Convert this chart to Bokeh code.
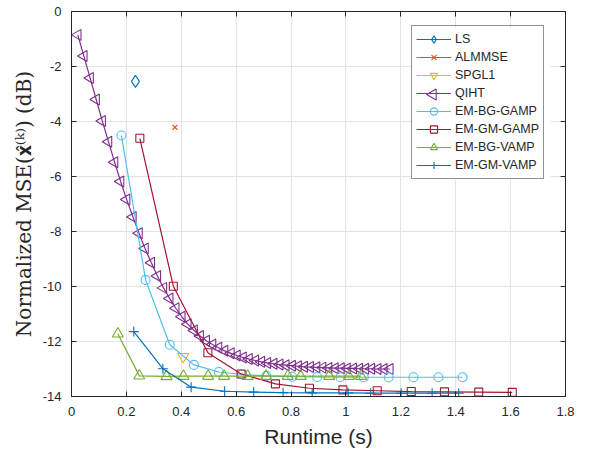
import numpy as np
from bokeh.plotting import figure
from bokeh.models import (Range1d, LinearAxis, SingleIntervalTicker, NumeralTickFormatter,
                          Legend, LegendItem)
from bokeh.embed import file_html
from bokeh.resources import INLINE

# ---------------- data ----------------
ls_x = [0.233]
ls_y = [-2.54]

almmse_x = [0.377]
almmse_y = [-4.21]

spgl1_x = [0.407]
spgl1_y = [-12.55]

qiht_x = [0.023, 0.045, 0.068, 0.090, 0.112, 0.135, 0.157, 0.179, 0.201, 0.224,
          0.246, 0.268, 0.291, 0.313, 0.335, 0.358, 0.380, 0.402, 0.424, 0.447,
          0.469, 0.491, 0.514, 0.536, 0.558, 0.581, 0.603, 0.625, 0.647, 0.670,
          0.692, 0.714, 0.737, 0.759, 0.781, 0.804, 0.826, 0.848, 0.870, 0.893,
          0.915, 0.937, 0.960, 0.982, 1.004, 1.027, 1.049, 1.071, 1.093, 1.116,
          1.138, 1.160]
qiht_y = [-0.85, -1.62, -2.42, -3.20, -3.98, -4.74, -5.48, -6.18, -6.84, -7.47,
          -8.06, -8.62, -9.14, -9.62, -10.05, -10.44, -10.79, -11.10, -11.37, -11.60,
          -11.80, -11.97, -12.11, -12.23, -12.34, -12.43, -12.51, -12.58, -12.64, -12.69,
          -12.74, -12.78, -12.81, -12.84, -12.86, -12.88, -12.90, -12.92, -12.93, -12.94,
          -12.95, -12.96, -12.97, -12.97, -12.98, -12.98, -12.99, -12.99, -12.99, -13.00,
          -13.00, -13.00]

bg_gamp_x = [0.182, 0.270, 0.358, 0.446, 0.537, 0.622, 0.710, 0.804, 0.895, 0.980,
             1.065, 1.156, 1.246, 1.337, 1.425]
bg_gamp_y = [-4.51, -9.76, -12.12, -12.85, -13.11, -13.20, -13.25, -13.28, -13.29, -13.30,
             -13.30, -13.30, -13.30, -13.30, -13.30]

gm_gamp_x = [0.249, 0.371, 0.497, 0.618, 0.743, 0.867, 0.989, 1.114, 1.238, 1.359,
             1.484, 1.606]
gm_gamp_y = [-4.61, -9.99, -12.41, -13.18, -13.54, -13.70, -13.76, -13.79, -13.82, -13.83,
             -13.84, -13.85]

bg_vamp_x = [0.169, 0.247, 0.346, 0.408, 0.498, 0.556, 0.642, 0.709, 0.788, 0.835,
             0.939, 1.011, 1.055]
bg_vamp_y = [-11.72, -13.25, -13.27, -13.26, -13.26, -13.26, -13.26, -13.26, -13.26, -13.26,
             -13.26, -13.26, -13.26]

gm_vamp_x = [0.227, 0.333, 0.436, 0.558, 0.664, 0.771, 0.877, 1.008, 1.090, 1.201,
             1.314, 1.411]
gm_vamp_y = [-11.64, -12.99, -13.66, -13.81, -13.84, -13.86, -13.87, -13.87, -13.88, -13.88,
             -13.88, -13.88]

x_min, x_max = 0, 1.8
y_min, y_max = -14, 0
x_ticks_interval = 0.2
y_ticks_interval = 2

# ---------------- figure ----------------
W, H = 591, 453
BL, BR, BT, BB = 71, 26, 11, 57
FW, FH = W - BL - BR, H - BT - BB
AX = "#262626"
p = figure(width=W, height=H, output_backend="svg", toolbar_location=None,
           x_range=Range1d(x_min, x_max), y_range=Range1d(y_min, y_max),
           min_border_left=BL, min_border_right=BR, min_border_top=BT, min_border_bottom=BB)
p.background_fill_color = "white"
p.border_fill_color = "white"
p.outline_line_color = AX
p.outline_line_width = 1

xt = SingleIntervalTicker(interval=x_ticks_interval, num_minor_ticks=0)
yt = SingleIntervalTicker(interval=y_ticks_interval, num_minor_ticks=0)

p.xaxis.ticker = xt
p.yaxis.ticker = yt
p.xaxis.formatter = NumeralTickFormatter(format="0.[0]")
p.yaxis.formatter = NumeralTickFormatter(format="0")
for ax in (p.xaxis, p.yaxis):
    ax.major_tick_in = 5
    ax.major_tick_out = 0
    ax.minor_tick_in = 0
    ax.minor_tick_out = 0
    ax.axis_line_color = AX
    ax.major_tick_line_color = AX
    ax.major_label_text_color = AX
    ax.major_label_text_font = "Liberation Sans"
    ax.major_label_text_font_size = "13px"
    ax.axis_label_text_color = AX
    ax.axis_label_text_font_style = "normal"

p.xaxis.major_label_standoff = 10
p.yaxis.major_label_standoff = 10
p.xaxis.axis_label = "Runtime (s)"
p.xaxis.axis_label_text_font = "Liberation Sans"
p.xaxis.axis_label_text_font_size = "21px"
p.xaxis.axis_label_standoff = 6
p.yaxis.axis_label = "Normalized MSE(\U0001D431\u0302\u207D\u1D4F\u207E) (dB)"
p.yaxis.axis_label_text_font = "DejaVu Serif"
p.yaxis.axis_label_text_font_size = "20px"
p.yaxis.axis_label_standoff = 4

for loc in ("above", "right"):
    ax = LinearAxis(ticker=(xt if loc == "above" else yt))
    ax.major_tick_in = 5
    ax.major_tick_out = 0
    ax.minor_tick_in = 0
    ax.minor_tick_out = 0
    ax.axis_line_color = AX
    ax.major_tick_line_color = AX
    ax.major_label_text_font_size = "1px"
    ax.major_label_text_color = None
    ax.major_label_standoff = 0
    p.add_layout(ax, loc)

p.xgrid.ticker = xt
p.ygrid.ticker = yt
p.xgrid.grid_line_color = "#e3e3e3"
p.ygrid.grid_line_color = "#e3e3e3"

C_LS = "#0072BD"
C_AL = "#D95319"
C_SP = "#EDB120"
C_QI = "#7E2F8E"
C_BGG = "#4DBEEE"
C_GMG = "#A2142F"
C_BGV = "#77AC30"
C_GMV = "#0072BD"

LW = 1.2
items = []

def series(x, y, color, marker, size, label, angle=0.0, legend_marker=True):
    l = p.line(x, y, line_color=color, line_width=LW)
    s = p.scatter(x, y, marker=marker, size=size, angle=angle, line_color=color,
                  fill_color=None, line_width=1.1)
    items.append(LegendItem(label=label, renderers=[l, s] if legend_marker else [l]))

series(ls_x, ls_y, C_LS, "diamond", 12, "LS")
series(almmse_x, almmse_y, C_AL, "x", 7, "ALMMSE")
series(spgl1_x, spgl1_y, C_SP, "inverted_triangle", 11, "SPGL1")
series(qiht_x, qiht_y, C_QI, "triangle", 11, "QIHT", angle=np.pi / 2, legend_marker=False)
series(bg_gamp_x, bg_gamp_y, C_BGG, "circle", 9, "EM-BG-GAMP")
series(gm_gamp_x, gm_gamp_y, C_GMG, "square", 8, "EM-GM-GAMP")
series(bg_vamp_x, bg_vamp_y, C_BGV, "triangle", 11, "EM-BG-VAMP")
series(gm_vamp_x, gm_vamp_y, C_GMV, "cross", 10, "EM-GM-VAMP")

LEG_X, LEG_Y = 340, 217
PAD, ROW, GW = 4, 18, 35
LEG_W = 139
legend = Legend(items=items, location=(LEG_X, LEG_Y))
legend.label_text_font = "Liberation Sans"
legend.label_text_font_size = "12.5px"
legend.label_text_color = AX
legend.glyph_width = GW
legend.glyph_height = ROW
legend.label_height = ROW
legend.label_standoff = 4
legend.spacing = 0
legend.padding = PAD
legend.margin = 0
legend.border_line_color = AX
legend.border_line_width = 1
legend.background_fill_color = None
legend.background_fill_alpha = 0
p.add_layout(legend, "center")

# white backing for the (transparent) legend box, plus a left-pointing triangle for the
# QIHT entry (Bokeh's legend ignores marker angle); frame pixels -> data coordinates
def fx(px):
    return x_min + px / FW * (x_max - x_min)

def fy(px):
    return y_min + px / FH * (y_max - y_min)

leg_top = LEG_Y + 2 * PAD + len(items) * ROW
p.quad(left=[fx(LEG_X)], right=[fx(LEG_X + LEG_W)], bottom=[fy(LEG_Y)], top=[fy(leg_top)],
       fill_color="white", line_color=None)
mx_px = LEG_X + PAD + GW / 2
my_px = leg_top - PAD - 3 * ROW - ROW / 2
p.scatter([fx(mx_px)], [fy(my_px)], marker="triangle", size=11, angle=np.pi / 2,
          line_color=C_QI, fill_color=None, line_width=1.1)

open("out.html", "w").write(file_html(p, INLINE))
